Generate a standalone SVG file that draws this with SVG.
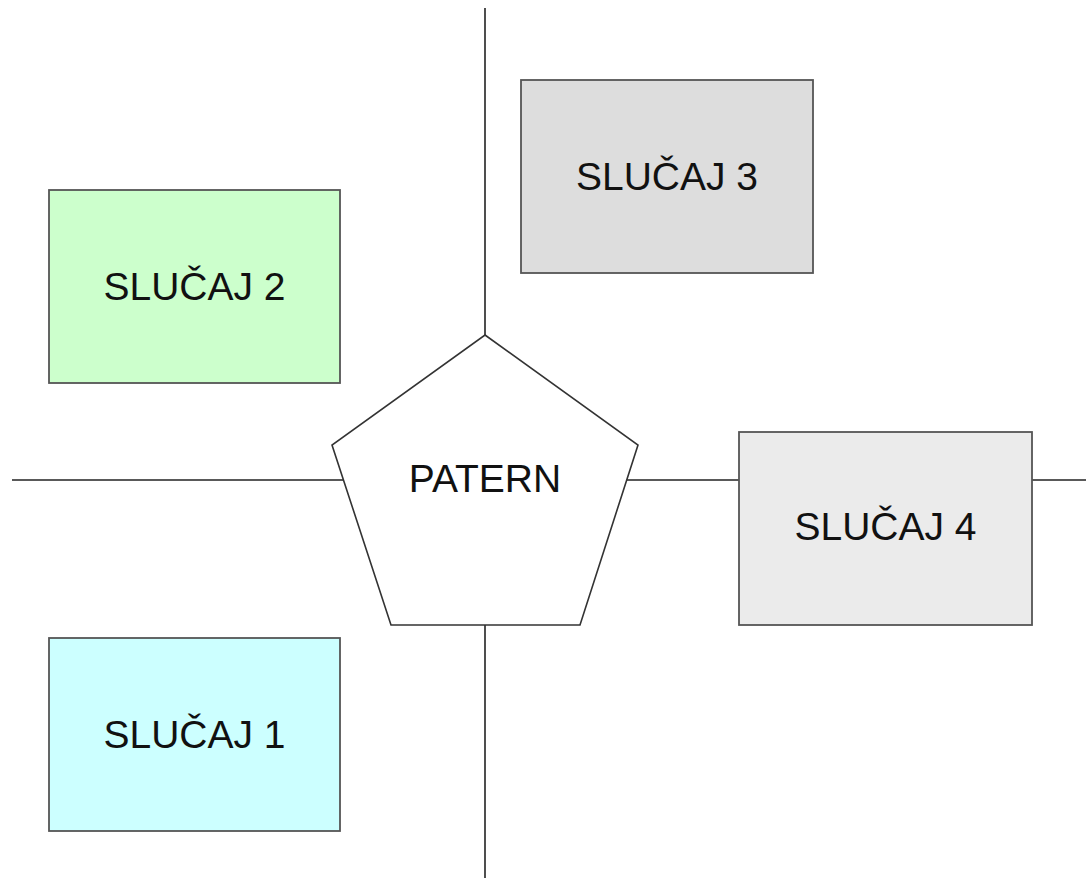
<svg xmlns="http://www.w3.org/2000/svg" width="1086" height="878" viewBox="0 0 1086 878">
<style>
.ln{stroke:#222;stroke-width:1.6;fill:none}
.box{stroke:#555;stroke-width:1.8}
.shape{fill:#fff;stroke:#333;stroke-width:1.6;stroke-linejoin:miter}
.t{font-family:"Liberation Sans",Arial,sans-serif;font-size:39px;fill:#111;text-anchor:middle}
</style>
<rect width="1086" height="878" fill="#fff"/>
<g id="connectors">
<line class="ln" x1="485" y1="8" x2="485" y2="878"/>
<line class="ln" x1="12" y1="480" x2="1086" y2="480"/>
</g>
<g id="patern">
<polygon class="shape" points="485,335 638,445 580,625 391,625 332,445"/>
<text class="t" x="485" y="492">PATERN</text>
</g>
<g id="slucaj2">
<rect class="box" x="49" y="190" width="291" height="193" fill="#ccffcc"/>
<text class="t" x="194.5" y="300">SLUČAJ 2</text>
</g>
<g id="slucaj1">
<rect class="box" x="49" y="638" width="291" height="193" fill="#ccffff"/>
<text class="t" x="194.5" y="748">SLUČAJ 1</text>
</g>
<g id="slucaj3">
<rect class="box" x="521" y="80" width="292" height="193" fill="#dddddd"/>
<text class="t" x="667" y="190">SLUČAJ 3</text>
</g>
<g id="slucaj4">
<rect class="box" x="739" y="432" width="293" height="193" fill="#ebebeb"/>
<text class="t" x="885.5" y="540">SLUČAJ 4</text>
</g>
</svg>
